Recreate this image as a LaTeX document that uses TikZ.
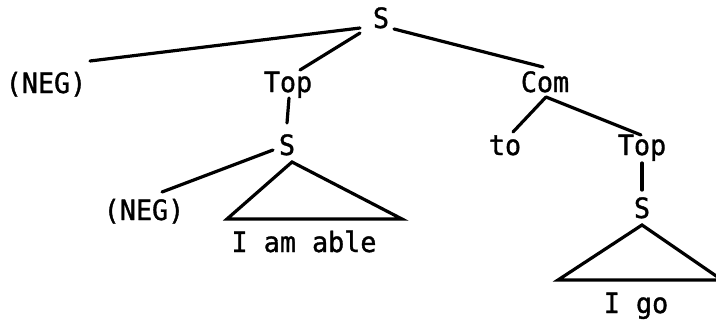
\documentclass[tikz,border=0pt]{standalone}
\usepackage{fontspec}
\setmonofont[FakeBold=1.2, FakeStretch=0.955]{DejaVu Sans Mono}
\tikzset{
  lbl/.style={font=\ttfamily\fontsize{21}{25}\selectfont, inner sep=0pt, anchor=base},
  branch/.style={line width=2.4pt, line cap=round}
}
\begin{document}
\begin{tikzpicture}[x=0.75pt, y=-0.75pt]
    \useasboundingbox (0,0) rectangle (716,322);
    % labels
    \node[lbl] (s0)   at (381,28)  {S};
    \node[lbl] (neg1) at (46,93)   {(NEG)};
    \node[lbl] (top1) at (288,92)  {Top};
    \node[lbl] (com)  at (545,92)  {Com};
    \node[lbl] (s1)   at (287,155) {S};
    \node[lbl] (neg2) at (144,220) {(NEG)};
    \node[lbl] (able) at (304,252) {I am able};
    \node[lbl] (to)   at (505,155) {to};
    \node[lbl] (top2) at (642,155) {Top};
    \node[lbl] (s2)   at (642,218) {S};
    \node[lbl] (go)   at (636,313) {I go};
    \begin{scope}[branch]
      \draw ([shift={(-21,0)}]s0.base) -- ([shift={(44,-32)}]neg1.base);
      \draw ([shift={(-21,5)}]s0.base) -- ([shift={(12,-22)}]top1.base);
      \draw ([shift={(13,1)}]s0.base) -- ([shift={(-2,-25)}]com.base);
      \draw ([shift={(1,6)}]top1.base) -- ([shift={(0,-32)}]s1.base);
      \draw ([shift={(-14,-5)}]s1.base) -- ([shift={(18,-28)}]neg2.base);
      \draw ([shift={(5,7)}]s1.base) -- ([shift={(-77,-33)}]able.base)
        -- ([shift={(98,-33)}]able.base) -- cycle;
      \draw ([shift={(1,5)}]com.base) -- ([shift={(8,-23)}]to.base);
      \draw ([shift={(1,5)}]com.base) -- ([shift={(-1,-20)}]top2.base);
      \draw ([shift={(0,8)}]top2.base) -- ([shift={(0,-28)}]s2.base);
      \draw ([shift={(0,7)}]s2.base) -- ([shift={(-78,-33)}]go.base)
        -- ([shift={(86,-33)}]go.base) -- cycle;
    \end{scope}
  \end{tikzpicture}
\end{document}
